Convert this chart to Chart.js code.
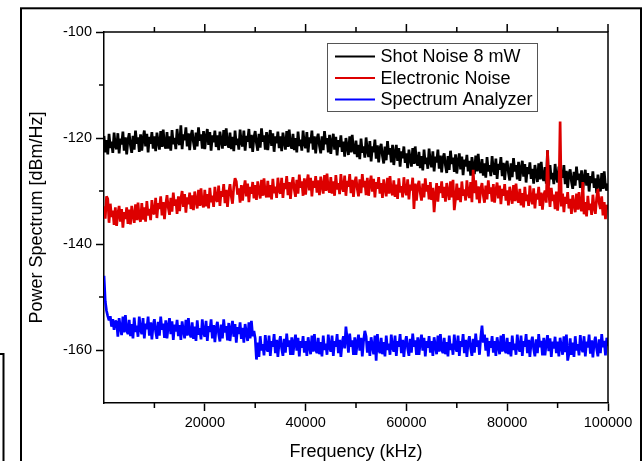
<!DOCTYPE html>
<html><head><meta charset="utf-8">
<script src="https://cdn.jsdelivr.net/npm/chart.js@4.4.0/dist/chart.umd.min.js"></script>
<style>html,body{margin:0;padding:0;background:#fff;overflow:hidden}</style>
</head><body>
<canvas id="c" width="644" height="461" style="display:block;width:644px;height:461px"></canvas>
<script>
const seriesNames = ['Shot Noise 8 mW', 'Electronic Noise', 'Spectrum Analyzer'];
const seriesColors = ['#000000', '#dd0000', '#0000ff'];

const freqKHz = [
0,250,500,750,1000,1250,1500,1750,2000,2250,
2500,2750,3000,3250,3500,3750,4000,4250,4500,4750,
5000,5250,5500,5750,6000,6250,6500,6750,7000,7250,
7500,7750,8000,8250,8500,8750,9000,9250,9500,9750,
10000,10250,10500,10750,11000,11250,11500,11750,12000,12250,
12500,12750,13000,13250,13500,13750,14000,14250,14500,14750,
15000,15250,15500,15750,16000,16250,16500,16750,17000,17250,
17500,17750,18000,18250,18500,18750,19000,19250,19500,19750,
20000,20250,20500,20750,21000,21250,21500,21750,22000,22250,
22500,22750,23000,23250,23500,23750,24000,24250,24500,24750,
25000,25250,25500,25750,26000,26250,26500,26750,27000,27250,
27500,27750,28000,28250,28500,28750,29000,29250,29500,29750,
30000,30250,30500,30750,31000,31250,31500,31750,32000,32250,
32500,32750,33000,33250,33500,33750,34000,34250,34500,34750,
35000,35250,35500,35750,36000,36250,36500,36750,37000,37250,
37500,37750,38000,38250,38500,38750,39000,39250,39500,39750,
40000,40250,40500,40750,41000,41250,41500,41750,42000,42250,
42500,42750,43000,43250,43500,43750,44000,44250,44500,44750,
45000,45250,45500,45750,46000,46250,46500,46750,47000,47250,
47500,47750,48000,48250,48500,48750,49000,49250,49500,49750,
50000,50250,50500,50750,51000,51250,51500,51750,52000,52250,
52500,52750,53000,53250,53500,53750,54000,54250,54500,54750,
55000,55250,55500,55750,56000,56250,56500,56750,57000,57250,
57500,57750,58000,58250,58500,58750,59000,59250,59500,59750,
60000,60250,60500,60750,61000,61250,61500,61750,62000,62250,
62500,62750,63000,63250,63500,63750,64000,64250,64500,64750,
65000,65250,65500,65750,66000,66250,66500,66750,67000,67250,
67500,67750,68000,68250,68500,68750,69000,69250,69500,69750,
70000,70250,70500,70750,71000,71250,71500,71750,72000,72250,
72500,72750,73000,73250,73500,73750,74000,74250,74500,74750,
75000,75250,75500,75750,76000,76250,76500,76750,77000,77250,
77500,77750,78000,78250,78500,78750,79000,79250,79500,79750,
80000,80250,80500,80750,81000,81250,81500,81750,82000,82250,
82500,82750,83000,83250,83500,83750,84000,84250,84500,84750,
85000,85250,85500,85750,86000,86250,86500,86750,87000,87250,
87500,87750,88000,88250,88500,88750,89000,89250,89500,89750,
90000,90250,90500,90750,91000,91250,91500,91750,92000,92250,
92500,92750,93000,93250,93500,93750,94000,94250,94500,94750,
95000,95250,95500,95750,96000,96250,96500,96750,97000,97250,
97500,97750,98000,98250,98500,98750,99000,99250,99500,99750,
100000
];

const shotNoise = [
-119.6,-122.7,-120.4,-123.1,-119.2,-121.9,-120.7,-122.8,-119.0,-121.5,
-122.1,-119.1,-122.9,-120.1,-121.2,-118.8,-122.4,-119.9,-123.1,-120.4,
-119.1,-121.4,-122.8,-119.6,-122.2,-118.6,-121.1,-119.9,-122.6,-119.3,
-122.4,-120.1,-118.6,-121.6,-119.2,-122.7,-119.8,-121.1,-118.9,-122.0,
-119.7,-122.5,-119.0,-120.7,-122.2,-118.7,-121.7,-118.4,-121.3,-122.0,
-118.9,-122.0,-119.7,-122.4,-118.5,-121.2,-120.0,-122.1,-118.3,-120.8,
-121.3,-117.6,-122.1,-119.3,-120.4,-118.0,-121.6,-119.1,-122.3,-119.6,
-118.5,-120.8,-122.2,-119.0,-121.6,-118.0,-120.5,-119.3,-122.0,-118.7,
-122.1,-119.8,-118.3,-121.3,-118.9,-122.4,-119.5,-120.8,-118.6,-121.7,
-119.5,-122.3,-118.8,-120.5,-122.0,-118.5,-121.5,-118.2,-121.1,-121.8,
-119.0,-122.1,-119.8,-122.5,-118.6,-121.3,-120.1,-122.2,-118.4,-120.9,
-121.6,-118.6,-122.4,-119.6,-120.7,-118.3,-121.9,-119.4,-122.6,-119.9,
-118.7,-121.0,-122.4,-119.2,-121.8,-118.2,-120.7,-119.5,-122.2,-118.9,
-122.3,-120.0,-118.5,-121.5,-119.1,-122.6,-119.7,-121.0,-118.8,-121.9,
-119.7,-122.5,-119.0,-120.7,-122.2,-118.7,-121.7,-118.4,-121.3,-122.0,
-119.2,-122.3,-120.0,-122.7,-118.8,-121.5,-120.3,-122.4,-118.6,-121.1,
-121.9,-118.9,-122.7,-119.9,-121.0,-118.6,-122.2,-119.7,-122.9,-120.2,
-119.2,-121.5,-122.9,-119.7,-122.3,-118.7,-121.2,-120.0,-122.7,-119.4,
-123.0,-120.7,-119.2,-122.2,-119.8,-123.3,-120.4,-121.7,-119.5,-122.6,
-120.7,-123.5,-120.0,-121.7,-123.2,-119.7,-122.7,-119.4,-122.3,-123.0,
-120.5,-123.6,-121.3,-124.0,-120.1,-122.8,-121.6,-123.7,-119.9,-122.4,
-123.6,-120.6,-124.4,-121.6,-122.7,-120.3,-123.9,-121.4,-124.6,-121.9,
-121.1,-123.4,-124.8,-121.6,-124.2,-120.6,-123.1,-121.9,-124.6,-121.3,
-125.1,-122.8,-121.3,-124.3,-121.9,-125.4,-122.5,-123.8,-121.6,-124.7,
-122.9,-125.7,-122.2,-123.9,-125.4,-121.9,-124.9,-121.6,-124.5,-125.2,
-122.6,-125.7,-123.4,-126.1,-122.2,-124.9,-123.7,-125.8,-122.0,-124.5,
-125.5,-122.5,-126.3,-123.5,-124.6,-122.2,-125.8,-123.3,-126.5,-123.8,
-122.9,-125.2,-126.6,-123.4,-126.0,-122.4,-124.9,-123.7,-126.4,-123.1,
-126.7,-124.4,-122.9,-125.9,-123.5,-127.0,-124.1,-125.4,-123.2,-126.3,
-124.3,-127.1,-123.6,-125.3,-126.8,-123.3,-126.3,-123.0,-125.9,-126.6,
-124.0,-127.1,-124.8,-127.5,-123.6,-126.3,-125.1,-127.2,-123.4,-125.9,
-126.9,-123.9,-127.7,-124.9,-126.0,-123.6,-127.2,-124.7,-127.9,-125.2,
-124.3,-126.6,-128.0,-124.8,-127.4,-123.8,-126.3,-125.1,-127.8,-124.5,
-128.1,-125.8,-124.3,-127.3,-124.9,-128.4,-125.5,-126.8,-124.6,-127.7,
-125.8,-128.6,-125.1,-126.8,-128.3,-124.8,-127.8,-124.5,-127.4,-128.1,
-125.5,-128.6,-122.3,-129.0,-125.1,-127.8,-126.6,-128.7,-124.9,-127.4,
-128.4,-125.4,-129.2,-126.4,-127.5,-125.1,-128.7,-126.2,-129.4,-126.7,
-125.9,-128.2,-129.6,-126.4,-129.0,-125.4,-127.9,-126.7,-129.4,-126.1,
-129.8,-127.5,-126.0,-129.0,-126.6,-130.1,-127.2,-128.5,-126.3,-129.4,
-127.6,-130.4,-126.9,-128.6,-130.1,-126.6,-129.6,-126.3,-129.2,-129.9,
-128.6
];

const electronicNoise = [
-132.9,-135.2,-131.0,-131.5,-136.0,-132.4,-134.9,-133.7,-136.4,-133.1,
-136.6,-134.3,-132.8,-135.8,-133.4,-136.9,-134.0,-135.3,-133.1,-136.2,
-133.5,-136.3,-132.8,-134.5,-136.0,-132.5,-135.5,-132.2,-135.1,-135.8,
-132.3,-135.4,-133.1,-135.8,-131.9,-134.6,-133.4,-135.5,-131.7,-134.2,
-134.3,-131.3,-135.1,-132.3,-133.4,-131.0,-134.6,-132.1,-135.3,-132.6,
-130.8,-133.1,-134.5,-131.3,-133.9,-130.3,-132.8,-131.6,-134.3,-131.0,
-133.8,-131.5,-130.0,-133.0,-130.6,-134.1,-131.2,-132.5,-130.3,-133.4,
-130.8,-133.6,-130.1,-131.8,-133.3,-129.8,-132.8,-129.5,-132.4,-133.1,
-129.8,-132.9,-130.6,-133.3,-129.4,-132.1,-130.9,-133.0,-129.2,-131.7,
-132.0,-129.0,-132.8,-130.0,-131.1,-128.7,-132.3,-129.8,-133.0,-130.3,
-128.7,-131.0,-132.4,-129.2,-127.6,-128.2,-130.7,-129.5,-132.2,-128.9,
-131.8,-129.5,-128.0,-131.0,-128.6,-132.1,-129.2,-130.5,-128.3,-131.4,
-128.9,-131.7,-128.2,-129.9,-131.4,-127.9,-130.9,-127.6,-130.5,-131.2,
-128.1,-131.2,-128.9,-131.6,-127.7,-130.4,-129.2,-131.3,-127.5,-130.0,
-130.5,-127.5,-131.3,-128.5,-129.6,-127.2,-130.8,-128.3,-131.5,-128.8,
-127.4,-129.7,-131.1,-127.9,-130.5,-126.9,-129.4,-128.2,-130.9,-127.6,
-130.7,-128.4,-126.9,-129.9,-127.5,-131.0,-128.1,-129.4,-127.2,-130.3,
-128.0,-130.8,-127.3,-129.0,-130.5,-127.0,-130.0,-126.7,-129.6,-130.3,
-127.4,-130.5,-128.2,-130.9,-127.0,-129.7,-128.5,-130.6,-126.8,-129.3,
-130.1,-127.1,-130.9,-128.1,-129.2,-126.8,-130.4,-127.9,-131.1,-128.4,
-127.3,-129.6,-131.0,-127.8,-130.4,-126.8,-129.3,-128.1,-130.8,-127.5,
-130.9,-128.6,-127.1,-130.1,-127.7,-131.2,-128.3,-129.6,-127.4,-130.5,
-128.5,-131.3,-127.8,-129.5,-131.0,-127.5,-130.5,-127.2,-130.1,-130.8,
-128.0,-131.1,-128.8,-131.5,-127.6,-130.3,-129.1,-131.2,-127.4,-129.9,
-130.8,-127.8,-131.6,-128.8,-129.9,-127.5,-133.4,-128.6,-131.8,-129.1,
-128.1,-130.4,-131.8,-128.6,-131.2,-127.6,-130.1,-128.9,-131.6,-128.3,
-131.7,-129.4,-134.0,-130.9,-128.5,-132.0,-129.1,-130.4,-128.2,-131.3,
-129.2,-132.0,-128.5,-130.2,-131.7,-128.2,-131.2,-127.9,-133.6,-131.5,
-128.6,-131.7,-129.4,-132.1,-128.2,-130.9,-129.7,-131.8,-128.0,-130.5,
-131.3,-128.3,-132.1,-126.0,-130.4,-128.0,-131.6,-129.1,-132.3,-129.6,
-128.5,-130.8,-132.2,-129.0,-131.6,-128.0,-130.5,-129.3,-132.0,-128.7,
-132.2,-129.9,-128.4,-131.4,-129.0,-132.5,-129.6,-130.9,-128.7,-131.8,
-129.9,-132.7,-129.2,-130.9,-132.4,-128.9,-131.9,-128.6,-131.5,-132.2,
-129.6,-132.7,-130.4,-133.1,-129.2,-131.9,-130.7,-132.8,-129.0,-131.5,
-132.5,-129.5,-133.3,-130.5,-131.6,-129.2,-132.8,-130.3,-133.5,-130.8,
-129.9,-132.2,-122.3,-130.4,-133.0,-129.4,-131.9,-130.7,-133.4,-130.1,
-133.7,-131.4,-116.9,-132.9,-130.5,-134.0,-131.1,-132.4,-130.2,-133.3,
-131.5,-134.3,-130.8,-132.5,-134.0,-130.5,-133.5,-130.2,-133.1,-133.8,
-128.3,-134.4,-132.1,-134.8,-130.9,-133.6,-132.4,-134.5,-130.7,-133.2,
-134.3,-131.3,-129.6,-132.3,-133.4,-131.0,-134.6,-132.1,-135.3,-132.6,
-133.5
];

const spectrumAnalyzer = [
-146.0,-150.8,-152.6,-153.6,-154.4,-153.6,-155.6,-154.2,-156.2,-154.5,
-154.7,-157.5,-154.0,-155.7,-157.2,-153.7,-156.7,-153.4,-156.3,-157.0,
-154.3,-157.4,-155.1,-157.8,-153.9,-156.6,-155.4,-157.5,-153.7,-156.2,
-157.0,-154.0,-157.8,-155.0,-156.1,-153.7,-157.3,-154.8,-158.0,-155.3,
-154.2,-156.5,-157.9,-154.7,-157.3,-153.7,-156.2,-155.0,-157.7,-154.4,
-157.8,-155.5,-154.0,-157.0,-154.6,-158.1,-155.2,-156.5,-154.3,-157.4,
-155.3,-158.1,-154.6,-156.3,-157.8,-154.3,-157.3,-154.0,-156.9,-157.6,
-154.8,-157.9,-155.6,-158.3,-154.4,-157.1,-155.9,-158.0,-154.2,-156.7,
-157.5,-154.5,-158.3,-155.5,-156.6,-154.2,-157.8,-155.3,-158.5,-155.8,
-154.7,-157.0,-158.4,-155.2,-157.8,-154.2,-156.7,-155.5,-158.2,-154.9,
-158.3,-156.0,-154.5,-157.5,-155.1,-158.6,-155.7,-157.0,-154.8,-157.9,
-155.8,-158.6,-155.1,-156.8,-158.3,-154.8,-157.8,-154.5,-157.4,-156.4,
-157.8,-161.8,-158.6,-161.3,-157.4,-160.1,-158.9,-161.0,-157.2,-159.7,
-160.3,-157.3,-161.1,-158.3,-159.4,-157.0,-160.6,-158.1,-161.3,-158.6,
-157.4,-159.7,-161.1,-157.9,-160.5,-156.9,-159.4,-158.2,-160.9,-157.6,
-160.9,-158.6,-157.1,-160.1,-157.7,-161.2,-158.3,-159.6,-157.4,-160.5,
-158.3,-161.1,-157.6,-159.3,-160.8,-157.3,-160.3,-157.0,-159.9,-160.6,
-157.7,-160.8,-158.5,-161.2,-157.3,-160.0,-158.8,-160.9,-157.1,-159.6,
-160.3,-157.3,-161.1,-158.3,-159.4,-157.0,-160.6,-158.1,-161.3,-158.6,
-157.4,-159.7,-155.6,-157.9,-160.5,-156.9,-159.4,-158.2,-160.9,-157.6,
-160.9,-158.6,-157.1,-160.1,-157.7,-161.2,-158.3,-156.4,-157.4,-160.5,
-158.3,-161.1,-157.6,-159.3,-160.8,-157.3,-162.0,-157.0,-159.9,-160.6,
-157.7,-160.8,-158.5,-161.2,-157.3,-160.0,-158.8,-160.9,-157.1,-159.6,
-160.3,-157.3,-161.1,-158.3,-159.4,-157.0,-160.6,-158.1,-161.3,-158.6,
-157.4,-159.7,-161.1,-157.9,-160.5,-156.9,-159.4,-158.2,-160.9,-157.6,
-160.9,-158.6,-157.1,-160.1,-157.7,-161.2,-158.3,-159.6,-157.4,-160.5,
-158.3,-161.1,-157.6,-159.3,-160.8,-157.3,-160.3,-157.0,-159.9,-160.6,
-157.7,-160.8,-158.5,-161.2,-157.3,-160.0,-158.8,-160.9,-157.1,-159.6,
-160.3,-157.3,-161.1,-158.3,-159.4,-157.0,-160.6,-158.1,-161.3,-158.6,
-157.4,-159.7,-161.1,-157.9,-160.5,-156.9,-159.4,-158.2,-160.9,-157.6,
-155.4,-158.6,-157.1,-160.1,-157.7,-161.2,-158.3,-159.6,-157.4,-160.5,
-158.3,-161.1,-157.6,-159.3,-160.8,-157.3,-160.3,-157.0,-159.9,-160.6,
-157.7,-160.8,-158.5,-161.2,-157.3,-160.0,-158.8,-160.9,-157.1,-159.6,
-160.3,-157.3,-161.1,-158.3,-159.4,-157.0,-160.6,-158.1,-161.3,-158.6,
-157.5,-159.8,-161.2,-158.0,-160.6,-157.0,-159.5,-158.3,-161.0,-157.7,
-161.0,-158.7,-157.2,-160.2,-157.8,-161.3,-158.4,-159.7,-157.5,-160.6,
-158.4,-161.2,-157.7,-159.4,-160.9,-157.4,-160.4,-157.1,-162.0,-160.7,
-157.8,-160.9,-158.6,-161.3,-157.4,-160.1,-158.9,-161.0,-157.2,-159.7,
-160.4,-157.4,-161.2,-158.4,-159.5,-157.1,-160.7,-158.2,-161.4,-158.7,
-157.5,-159.8,-161.2,-158.0,-160.6,-157.0,-159.5,-158.3,-161.0,-157.7,
-159.3
];

const xTickValues = [20000, 40000, 60000, 80000, 100000];
const xMinorTickValues = [10000, 30000, 50000, 70000, 90000];
const yTickValues = [-100, -120, -140, -160];
const yMinorTickValues = [-110, -130, -150];

const FONT = '"Liberation Sans", Arial, Helvetica, sans-serif';
const seriesValues = [shotNoise, electronicNoise, spectrumAnalyzer];

const datasets = seriesNames.map((name, k) => ({
  label: name,
  data: freqKHz.map((f, i) => ({ x: f, y: seriesValues[k][i] })),
  borderColor: seriesColors[k],
  backgroundColor: seriesColors[k],
  borderWidth: 2.7,
  borderJoinStyle: 'bevel',
  pointRadius: 0,
  tension: 0,
  fill: false,
  order: 3 - k
}));

const decorPlugin = {
  id: 'decor',
  afterDraw(chart) {
    const ctx = chart.ctx;
    const a = chart.chartArea;
    const xs = chart.scales.x, ys = chart.scales.y;
    ctx.save();
    ctx.strokeStyle = '#000';
    ctx.lineWidth = 1.5;
    ctx.beginPath();
    ctx.moveTo(a.left, a.top); ctx.lineTo(a.right, a.top); ctx.lineTo(a.right, a.bottom);
    ctx.stroke();
    ctx.beginPath();
    xTickValues.forEach(v => { const p = xs.getPixelForValue(v); ctx.moveTo(p, a.top); ctx.lineTo(p, a.top - 8); });
    xMinorTickValues.forEach(v => { const p = xs.getPixelForValue(v); ctx.moveTo(p, a.top); ctx.lineTo(p, a.top - 5);
      ctx.moveTo(p, a.bottom); ctx.lineTo(p, a.bottom + 5); });
    yMinorTickValues.forEach(v => { const p = ys.getPixelForValue(v); ctx.moveTo(a.left, p); ctx.lineTo(a.left - 5, p); });
    ctx.stroke();
    const bx = 327, by = 43, bw = 210, bh = 68;
    ctx.lineWidth = 1;
    ctx.strokeStyle = '#555';
    ctx.fillStyle = '#fff';
    ctx.fillRect(bx, by, bw, bh);
    ctx.strokeRect(bx + 0.5, by + 0.5, bw, bh);
    const rows = [56.5, 78, 99.5];
    ctx.font = '18px ' + FONT;
    ctx.textBaseline = 'middle';
    ctx.textAlign = 'left';
    chart.data.datasets.forEach((d, i) => {
      ctx.strokeStyle = d.borderColor;
      ctx.lineWidth = 2;
      ctx.beginPath(); ctx.moveTo(335, rows[i]); ctx.lineTo(375, rows[i]); ctx.stroke();
      ctx.fillStyle = '#000';
      ctx.fillText(d.label, 380.5, rows[i] + 1);
    });
    ctx.strokeStyle = '#000';
    ctx.lineWidth = 2;
    ctx.strokeRect(21, 8.3, 620, 470);
    ctx.beginPath(); ctx.moveTo(0, 354); ctx.lineTo(3.5, 354); ctx.lineTo(3.5, 470); ctx.stroke();
    ctx.restore();
  }
};

new Chart(document.getElementById('c'), {
  type: 'line',
  data: { datasets },
  plugins: [decorPlugin],
  options: {
    responsive: false,
    animation: false,
    devicePixelRatio: 1,
    layout: { padding: { top: 32, right: 36, left: 0, bottom: 0 } },
    plugins: { legend: { display: false }, tooltip: { enabled: false } },
    scales: {
      x: {
        type: 'linear', min: 0, max: 100000,
        afterBuildTicks: s => { s.ticks = xTickValues.map(v => ({ value: v })); },
        afterFit: s => { s.height = 58; },
        grid: { display: true, drawOnChartArea: false, drawTicks: true, tickLength: 8, tickWidth: 1.5, tickColor: '#000' },
        border: { display: true, color: '#000', width: 1.5 },
        ticks: { color: '#000', font: { family: FONT, size: 14.5 }, padding: 3, maxRotation: 0, autoSkip: false, callback: v => String(v) },
        title: { display: true, text: 'Frequency (kHz)', color: '#000', font: { family: FONT, size: 18, lineHeight: 1 }, padding: { top: 0, bottom: 0 } }
      },
      y: {
        type: 'linear', min: -170, max: -100,
        afterBuildTicks: s => { s.ticks = yTickValues.map(v => ({ value: v })); },
        afterFit: s => { s.width = 104; },
        grid: { display: true, drawOnChartArea: false, drawTicks: true, tickLength: 8, tickWidth: 1.5, tickColor: '#000' },
        border: { display: true, color: '#000', width: 1.5 },
        ticks: { color: '#000', font: { family: FONT, size: 14.5 }, padding: 4, callback: v => String(v) },
        title: { display: true, text: 'Power Spectrum [dBm/Hz]', color: '#000', font: { family: FONT, size: 18, lineHeight: 1 }, padding: { top: 28, bottom: 0 } }
      }
    }
  }
});
</script>
</body></html>
